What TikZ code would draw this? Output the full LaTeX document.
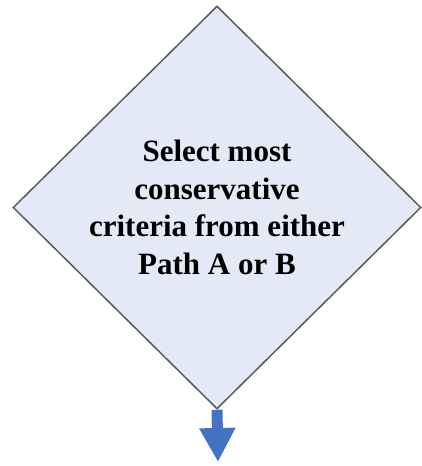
\documentclass[tikz,border=0pt]{standalone}
\usepackage{fontspec}
\setmainfont{Liberation Serif}
\usetikzlibrary{shapes.geometric,arrows.meta}
\definecolor{boxfill}{HTML}{E4EAF5}
\definecolor{boxline}{HTML}{5A5A5A}
\definecolor{arrowblue}{HTML}{4472C4}
\tikzset{
  decision/.style={shape=diamond, draw=boxline, fill=boxfill, line width=1.5pt,
    minimum width=408pt, minimum height=403pt, inner sep=0pt,
    align=center, font=\bfseries\fontsize{31}{37.5}\selectfont},
  flowarrow/.style={draw=arrowblue, line width=11pt,
    -{Triangle[width=34pt,length=34pt,fill=arrowblue]}}
}
\begin{document}
\begin{tikzpicture}[x=1pt,y=-1pt]
\useasboundingbox (0,0) rectangle (422,466);
\node[decision] (d) at (217,207.5) {Select most\\conservative\\criteria from either\\Path A or B};
\coordinate (tip) at (218,462);
\draw[flowarrow] (d.south) -- (tip);
\end{tikzpicture}
\end{document}
